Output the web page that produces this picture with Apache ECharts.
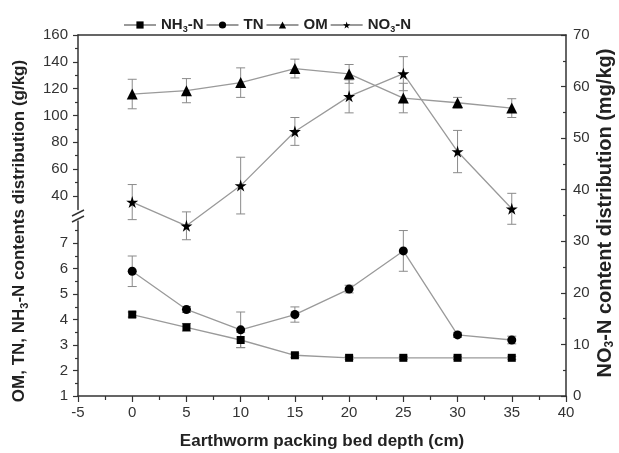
<!DOCTYPE html>
<html>
<head>
<meta charset="utf-8">
<script src="https://cdn.jsdelivr.net/npm/echarts@6/dist/echarts.min.js"></script>
<style>html,body{margin:0;padding:0;background:#fff}#c{width:619px;height:453px}</style>
</head>
<body>
<div id="c"></div>
<script>
// ---- data ----
const depth = [0, 5, 10, 15, 20, 25, 30, 35];
const nh3 = [4.2, 3.7, 3.2, 2.6, 2.5, 2.5, 2.5, 2.5];
const nh3Err = [0.1, 0.15, 0.3, 0.08, 0.06, 0.06, 0.06, 0.06];
const tn = [5.9, 4.4, 3.6, 4.2, 5.2, 6.7, 3.4, 3.2];
const tnErr = [0.6, 0.12, 0.7, 0.3, 0.15, 0.8, 0.1, 0.15];
const om = [116, 118.5, 124.5, 135, 131, 113, 109.5, 105.5];
const omErr = [11, 9, 11, 7, 7, 11, 4, 7];
const no3 = [37.6, 33.0, 40.8, 51.3, 58.1, 62.5, 47.4, 36.3];
const no3Err = [3.4, 2.7, 5.5, 2.7, 3.2, 3.3, 4.1, 3.0];
const upperTicks = [40, 60, 80, 100, 120, 140, 160];
const upperMinor = [50, 70, 90, 110, 130, 150];
const lowerTicks = [1, 2, 3, 4, 5, 6, 7];
const lowerMinor = [1.5, 2.5, 3.5, 4.5, 5.5, 6.5, 7.5];

const FONT = 'Liberation Sans, Arial, sans-serif';
const AX = '#333';
const LINE = '#9a9a9a';
const EB = '#8a8a8a';
const star = 'path://M50,0 L61,35 L98,35 L68,57 L79,91 L50,70 L21,91 L32,57 L2,35 L39,35 Z';

const pts = (v) => depth.map((d, i) => [d, v[i]]);
const errPts = (v, e) => depth.map((d, i) => [d, v[i], e[i]]);

function errRender(params, api) {
  const x = api.value(0), y = api.value(1), e = api.value(2);
  const t = api.coord([x, y + e]);
  const b = api.coord([x, y - e]);
  const w = 4.5;
  const st = { stroke: EB, lineWidth: 1 };
  return {
    type: 'group',
    children: [
      { type: 'line', shape: { x1: t[0], y1: t[1], x2: b[0], y2: b[1] }, style: st },
      { type: 'line', shape: { x1: t[0] - w, y1: t[1], x2: t[0] + w, y2: t[1] }, style: st },
      { type: 'line', shape: { x1: b[0] - w, y1: b[1], x2: b[0] + w, y2: b[1] }, style: st }
    ]
  };
}

const G = { left: 78, right: 53 };
const hiddenX = (gi) => ({ gridIndex: gi, type: 'value', min: -5, max: 40, interval: 5, show: false });
const labelStyle = { fontSize: 15, color: '#333', fontFamily: FONT };
const titleRich = (px) => ({
  b: { font: 'bold ' + px + 'px ' + FONT, fill: '#222', lineHeight: 22 },
  s: { font: 'bold ' + Math.round(px * 0.62) + 'px ' + FONT, fill: '#222', lineHeight: 22, verticalAlign: 'bottom', padding: [10, 0, 0, 0] }
});

const chart = echarts.init(document.getElementById('c'));
chart.setOption({
  animation: false,
  backgroundColor: '#fff',
  legend: {
    left: 118, top: 12,
    itemWidth: 32, itemHeight: 9, itemGap: 2,
    data: ['NH3-N', 'TN', 'OM', 'NO3-N'],
    formatter: (n) => ({ 'NH3-N': '{b|NH}{s|3}{b|-N}', 'TN': '{b|TN}', 'OM': '{b|OM}', 'NO3-N': '{b|NO}{s|3}{b|-N}' })[n],
    textStyle: {
      fontFamily: FONT, color: '#222',
      rich: {
        b: { fontSize: 15, fontWeight: 'bold', fontFamily: FONT, color: '#222', lineHeight: 18 },
        s: { fontSize: 9, fontWeight: 'bold', fontFamily: FONT, color: '#222', lineHeight: 18, verticalAlign: 'bottom', padding: [8, 0, 0, 0] }
      }
    }
  },
  grid: [
    { left: G.left, right: G.right, top: 35, bottom: 57 },
    { left: G.left, right: G.right, top: 35, height: 174.4 },
    { left: G.left, right: G.right, top: 221, bottom: 57 },
    { left: G.left, right: G.right, top: 35, height: 174.4 },
    { left: G.left, right: G.right, top: 221, bottom: 57 }
  ],
  xAxis: [
    {
      gridIndex: 0, type: 'value', min: -5, max: 40, interval: 5, position: 'bottom',
      axisLine: { onZero: false, lineStyle: { color: AX, width: 1.5 } },
      axisTick: { length: 6, lineStyle: { color: AX, width: 1.2 } },
      minorTick: { show: true, splitNumber: 2, length: 4, lineStyle: { color: AX, width: 1.2 } },
      axisLabel: Object.assign({ margin: 9 }, labelStyle),
      splitLine: { show: false }
    },
    {
      gridIndex: 0, type: 'value', min: -5, max: 40, interval: 5, position: 'top',
      axisLine: { onZero: false, lineStyle: { color: AX, width: 1.5 } },
      axisTick: { show: false }, axisLabel: { show: false }, splitLine: { show: false }
    },
    hiddenX(1), hiddenX(2), hiddenX(3), hiddenX(4)
  ],
  yAxis: [
    {
      gridIndex: 0, type: 'value', position: 'right', min: 0, max: 70, interval: 10,
      axisLine: { show: true, onZero: false, lineStyle: { color: AX, width: 1.5 } },
      axisTick: { show: true, inside: true, length: 5, lineStyle: { color: AX, width: 1.2 } },
      minorTick: { show: true, splitNumber: 2, length: 3, lineStyle: { color: AX, width: 1.2 } },
      axisLabel: Object.assign({ margin: 7 }, labelStyle),
      splitLine: { show: false }
    },
    {
      gridIndex: 1, type: 'value', position: 'left', min: 30, max: 160,
      axisLine: { show: true, onZero: false, lineStyle: { color: AX, width: 1.5 } },
      axisTick: { show: true, length: 5, customValues: upperTicks, lineStyle: { color: AX, width: 1.2 } },
      axisLabel: Object.assign({ margin: 10, customValues: upperTicks }, labelStyle),
      splitLine: { show: false }
    },
    {
      gridIndex: 2, type: 'value', position: 'left', min: 1, max: 7.875,
      axisLine: { show: true, onZero: false, lineStyle: { color: AX, width: 1.5 } },
      axisTick: { show: true, length: 5, customValues: lowerTicks, lineStyle: { color: AX, width: 1.2 } },
      axisLabel: Object.assign({ margin: 10, customValues: lowerTicks }, labelStyle),
      splitLine: { show: false }
    },
    {
      gridIndex: 3, type: 'value', position: 'left', min: 30, max: 160,
      axisLine: { show: false, onZero: false },
      axisTick: { show: true, length: 3, customValues: upperMinor, lineStyle: { color: AX, width: 1.2 } },
      axisLabel: { show: false }, splitLine: { show: false }
    },
    {
      gridIndex: 4, type: 'value', position: 'left', min: 1, max: 7.875,
      axisLine: { show: false, onZero: false },
      axisTick: { show: true, length: 3, customValues: lowerMinor, lineStyle: { color: AX, width: 1.2 } },
      axisLabel: { show: false }, splitLine: { show: false }
    }
  ],
  graphic: [
    { type: 'line', shape: { x1: 72, y1: 216, x2: 84, y2: 210 }, style: { stroke: AX, lineWidth: 1.5 } },
    { type: 'line', shape: { x1: 72, y1: 222, x2: 84, y2: 216 }, style: { stroke: AX, lineWidth: 1.5 } },
    {
      type: 'text', x: 322, y: 441,
      style: { text: 'Earthworm packing bed depth (cm)', font: 'bold 17px ' + FONT, fill: '#222', align: 'center', verticalAlign: 'middle' }
    },
    {
      type: 'text', x: 19, y: 231, rotation: Math.PI / 2,
      style: {
        text: '{b|OM, TN, NH}{s|3}{b|-N contents distribution (g/kg)}', fill: '#222', align: 'center', verticalAlign: 'middle',
        rich: titleRich(17)
      }
    },
    {
      type: 'text', x: 605, y: 213, rotation: Math.PI / 2,
      style: {
        text: '{b|NO}{s|3}{b|-N content distribution (mg/kg)}', fill: '#222', align: 'center', verticalAlign: 'middle',
        rich: titleRich(20)
      }
    }
  ],
  series: [
    { name: 'eb-nh3', type: 'custom', xAxisIndex: 3, yAxisIndex: 2, renderItem: errRender, data: errPts(nh3, nh3Err), encode: { x: 0, y: 1 }, z: 1, silent: true },
    { name: 'eb-tn', type: 'custom', xAxisIndex: 3, yAxisIndex: 2, renderItem: errRender, data: errPts(tn, tnErr), encode: { x: 0, y: 1 }, z: 1, silent: true },
    { name: 'eb-om', type: 'custom', xAxisIndex: 2, yAxisIndex: 1, renderItem: errRender, data: errPts(om, omErr), encode: { x: 0, y: 1 }, z: 1, silent: true },
    { name: 'eb-no3', type: 'custom', xAxisIndex: 0, yAxisIndex: 0, renderItem: errRender, data: errPts(no3, no3Err), encode: { x: 0, y: 1 }, z: 1, silent: true },
    { name: 'NH3-N', type: 'line', xAxisIndex: 3, yAxisIndex: 2, data: pts(nh3), symbol: 'rect', symbolSize: 8, showAllSymbol: true,
      lineStyle: { color: LINE, width: 1.3 }, itemStyle: { color: '#000' }, z: 3 },
    { name: 'TN', type: 'line', xAxisIndex: 3, yAxisIndex: 2, data: pts(tn), symbol: 'circle', symbolSize: 9,
      lineStyle: { color: LINE, width: 1.3 }, itemStyle: { color: '#000' }, z: 3 },
    { name: 'OM', type: 'line', xAxisIndex: 2, yAxisIndex: 1, data: pts(om), symbol: 'triangle', symbolSize: 11,
      lineStyle: { color: LINE, width: 1.3 }, itemStyle: { color: '#000' }, z: 3 },
    { name: 'NO3-N', type: 'line', xAxisIndex: 0, yAxisIndex: 0, data: pts(no3), symbol: star, symbolSize: 12,
      lineStyle: { color: LINE, width: 1.3 }, itemStyle: { color: '#000' }, z: 3 }
  ]
});
</script>
</body>
</html>
